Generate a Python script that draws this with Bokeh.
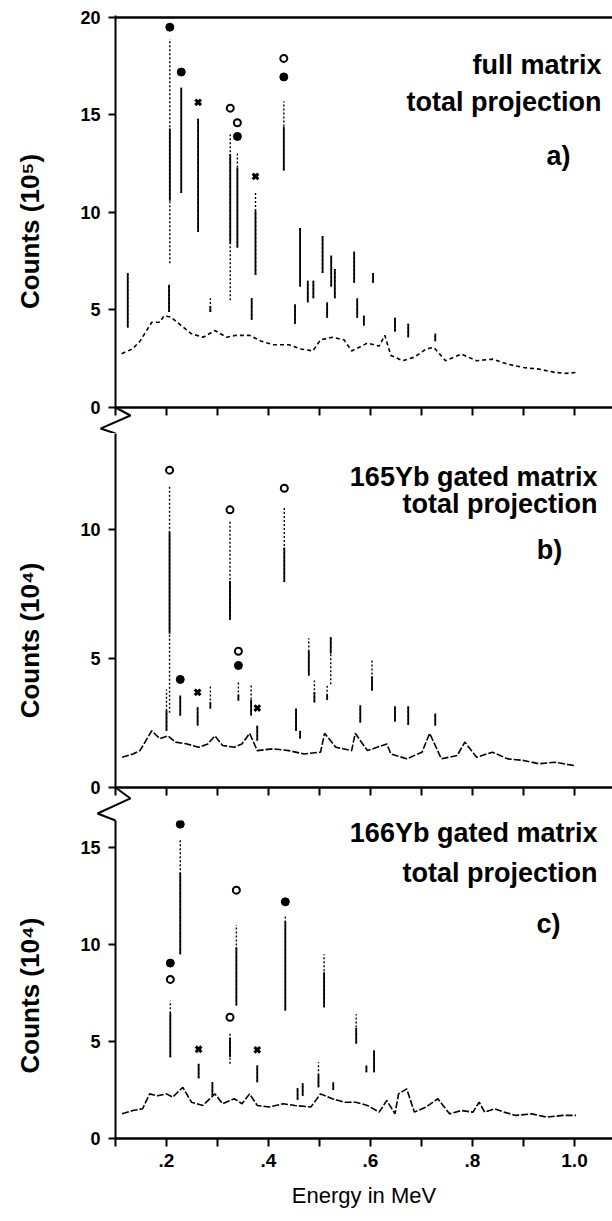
from math import pi
from bokeh.plotting import figure
from bokeh.layouts import column
from bokeh.models import Range1d, FixedTicker, Label
from bokeh.core.properties import value
from bokeh.embed import file_html
from bokeh.resources import INLINE

FONT = "Liberation Sans"

# ---------------- data ----------------
x_major = [0.2, 0.4, 0.6, 0.8, 1.0]
x_minor = [0.1, 0.3, 0.5, 0.7, 0.9]
x_all = [0.1, 0.2, 0.3, 0.4, 0.5, 0.6, 0.7, 0.8, 0.9, 1.0]
x_labels = {0.2: ".2", 0.4: ".4", 0.6: ".6", 0.8: ".8", 1.0: "1.0"}

# panel a) full matrix, counts in 1e5
bg_a_E = [0.112, 0.133, 0.148, 0.171, 0.187, 0.195, 0.209, 0.229, 0.249, 0.272,
          0.295, 0.318, 0.336, 0.363, 0.386, 0.409, 0.440, 0.463, 0.487, 0.502,
          0.525, 0.548, 0.563, 0.594, 0.617, 0.628, 0.640, 0.663, 0.686, 0.709,
          0.724, 0.747, 0.778, 0.808, 0.839, 0.869, 0.900, 0.930, 0.961, 0.984,
          1.003]
bg_a_C = [2.76, 3.00, 3.40, 4.37, 4.37, 4.70, 4.63, 4.20, 3.78, 3.60,
          3.95, 3.60, 3.70, 3.70, 3.40, 3.22, 3.22, 3.00, 2.90, 3.47,
          3.60, 3.47, 2.90, 3.30, 3.15, 3.70, 2.67, 2.40, 2.58, 3.00,
          3.08, 2.40, 2.74, 2.40, 2.48, 2.22, 2.05, 1.97, 1.80, 1.75,
          1.80]
pk_a_E = [0.124, 0.2065, 0.205, 0.229, 0.262, 0.325, 0.339, 0.3745, 0.367, 0.286,
          0.430, 0.462, 0.452, 0.477, 0.488, 0.506, 0.523, 0.530, 0.515, 0.568,
          0.574, 0.587, 0.605, 0.648, 0.674, 0.727]
pk_a_top = [6.9, 18.9, 6.3, 16.4, 14.8, 14.1, 13.1, 11.0, 5.6, 5.6,
            15.7, 9.2, 5.3, 6.5, 6.5, 8.8, 7.8, 7.1, 5.4, 8.0,
            5.6, 4.7, 6.9, 4.6, 4.3, 3.8]
pk_a_low = [4.1, 7.4, 4.9, 11.0, 9.0, 5.5, 8.2, 6.8, 4.5, 4.9,
            12.15, 6.2, 4.3, 5.4, 5.6, 6.9, 6.2, 5.6, 4.6, 6.4,
            4.6, 4.2, 6.4, 3.9, 3.6, 3.4]
pk_a_solid_hi = [6.9, 14.3, 6.3, 16.4, 14.8, 13.0, 12.3, 10.1, 5.6, 5.2,
                 14.4, 9.2, 5.3, 6.5, 6.5, 8.8, 7.8, 7.1, 5.4, 8.0,
                 5.6, 4.7, 6.9, 4.6, 4.3, 3.8]
pk_a_solid_lo = [4.1, 10.6, 4.9, 11.0, 9.0, 8.4, 8.2, 6.8, 4.5, 4.9,
                 12.15, 6.2, 4.3, 5.4, 5.6, 6.9, 6.2, 5.6, 4.6, 6.4,
                 4.6, 4.2, 6.4, 3.9, 3.6, 3.4]
filled_a_E = [0.2065, 0.229, 0.339, 0.430]
filled_a_C = [19.5, 17.2, 13.9, 16.95]
open_a_E = [0.325, 0.339, 0.430]
open_a_C = [15.35, 14.6, 17.9]
cross_a_E = [0.262, 0.3745]
cross_a_C = [15.65, 11.85]

# panel b) 165Yb gated matrix, counts in 1e4
bg_b_E = [0.113, 0.134, 0.148, 0.171, 0.187, 0.203, 0.217, 0.240, 0.263, 0.281,
          0.295, 0.310, 0.333, 0.348, 0.363, 0.378, 0.409, 0.440, 0.470, 0.502,
          0.510, 0.532, 0.563, 0.570, 0.594, 0.632, 0.640, 0.671, 0.701, 0.716,
          0.739, 0.770, 0.785, 0.808, 0.839, 0.869, 0.900, 0.930, 0.961, 0.999]
bg_b_C = [1.17, 1.30, 1.43, 2.20, 1.89, 2.00, 1.76, 1.69, 1.56, 1.69,
          2.00, 1.63, 1.56, 1.69, 2.10, 1.43, 1.50, 1.43, 1.30, 1.37,
          2.10, 1.56, 1.43, 2.10, 1.43, 1.69, 1.30, 1.11, 1.37, 2.10,
          1.11, 1.24, 1.76, 1.17, 1.37, 1.11, 1.05, 0.92, 0.98, 0.85]
pk_b_E = [0.206, 0.200, 0.3245, 0.431, 0.341, 0.227, 0.261, 0.378, 0.366, 0.286,
          0.454, 0.479, 0.490, 0.522, 0.515, 0.603, 0.580, 0.648, 0.674, 0.727,
          0.462]
pk_b_top = [11.7, 3.8, 10.3, 10.9, 4.08, 3.57, 3.11, 2.4, 3.95, 3.95,
            3.06, 5.78, 4.15, 5.83, 4.0, 5.0, 3.18, 3.15, 3.15, 2.87,
            2.2]
pk_b_low = [2.9, 2.2, 6.5, 7.96, 3.37, 2.79, 2.4, 1.82, 2.79, 3.06,
            2.2, 4.34, 3.3, 4.0, 3.4, 3.76, 2.52, 2.56, 2.43, 2.4,
            1.9]
pk_b_solid_hi = [9.9, 3.0, 8.0, 9.3, 3.6, 3.57, 3.11, 2.4, 3.4, 3.3,
                 3.06, 5.3, 3.7, 5.83, 3.6, 4.3, 3.18, 3.15, 3.15, 2.87,
                 2.2]
pk_b_solid_lo = [5.96, 2.2, 6.5, 7.96, 3.37, 2.79, 2.4, 1.82, 2.79, 3.06,
                 2.2, 4.34, 3.3, 5.19, 3.4, 3.76, 2.52, 2.56, 2.43, 2.4,
                 1.9]
filled_b_E = [0.341, 0.227]
filled_b_C = [4.73, 4.19]
open_b_E = [0.206, 0.3245, 0.431, 0.341]
open_b_C = [12.3, 10.76, 11.6, 5.28]
cross_b_E = [0.261, 0.378]
cross_b_C = [3.69, 3.08]

# panel c) 166Yb gated matrix, counts in 1e4
bg_c_E = [0.113, 0.134, 0.153, 0.167, 0.182, 0.200, 0.212, 0.232, 0.249, 0.271,
          0.295, 0.310, 0.333, 0.348, 0.363, 0.378, 0.401, 0.429, 0.452, 0.483,
          0.502, 0.525, 0.548, 0.571, 0.594, 0.617, 0.632, 0.648, 0.655, 0.671,
          0.686, 0.709, 0.732, 0.755, 0.778, 0.801, 0.813, 0.824, 0.843, 0.862,
          0.885, 0.916, 0.946, 0.977, 1.003]
bg_c_C = [1.27, 1.44, 1.53, 2.30, 2.20, 2.30, 2.13, 2.64, 1.87, 1.70,
          2.30, 1.79, 2.05, 1.79, 2.30, 1.70, 1.62, 1.79, 1.70, 1.62,
          2.30, 2.05, 1.87, 1.87, 1.70, 1.36, 1.96, 1.27, 2.30, 2.56,
          1.36, 1.62, 2.05, 1.27, 1.44, 1.36, 1.87, 1.36, 1.53, 1.36,
          1.19, 1.27, 1.10, 1.19, 1.19]
pk_c_E = [0.2075, 0.227, 0.263, 0.3245, 0.337, 0.378, 0.433, 0.509, 0.572, 0.607,
          0.592, 0.498, 0.290, 0.467, 0.457, 0.527]
pk_c_top = [7.1, 15.4, 3.85, 5.48, 11.0, 3.76, 11.5, 9.5, 6.4, 4.53,
            3.76, 3.93, 2.9, 2.85, 2.6, 2.9]
pk_c_low = [4.19, 9.5, 3.1, 3.85, 6.86, 2.9, 6.6, 6.77, 4.9, 3.42,
            3.42, 2.64, 2.2, 2.2, 2.0, 2.5]
pk_c_solid_hi = [6.5, 13.7, 3.85, 5.2, 9.86, 3.76, 11.2, 8.57, 5.7, 4.53,
                 3.76, 3.3, 2.9, 2.85, 2.6, 2.9]
pk_c_solid_lo = [4.19, 9.5, 3.1, 4.2, 6.86, 2.9, 6.6, 6.77, 4.9, 3.42,
                 3.42, 2.64, 2.2, 2.2, 2.0, 2.5]
filled_c_E = [0.2075, 0.227, 0.433]
filled_c_C = [9.04, 16.2, 12.2]
open_c_E = [0.2075, 0.3245, 0.337]
open_c_C = [8.2, 6.25, 12.8]
cross_c_E = [0.263, 0.378]
cross_c_C = [4.6, 4.57]

# ---------------- drawing ----------------
X0, X1 = 0.1, 1.0745


def make_panel(frame_h, b_top, b_bottom, y_end, y_ticks, last):
    p = figure(frame_width=497, frame_height=frame_h,
               min_border_left=115, min_border_right=0,
               min_border_top=b_top, min_border_bottom=b_bottom,
               x_range=Range1d(X0, X1), y_range=Range1d(0, y_end),
               output_backend="svg", toolbar_location=None)
    p.outline_line_color = None
    p.grid.visible = False
    p.background_fill_color = "white"
    p.border_fill_color = "white"

    xa = p.xaxis[0]
    xa.axis_line_width = 2.5
    xa.major_tick_in = 0
    xa.major_tick_out = 8
    xa.minor_tick_in = 0
    xa.minor_tick_out = 8
    xa.major_tick_line_width = 2
    xa.minor_tick_line_width = 2
    if last:
        xa.ticker = FixedTicker(ticks=x_major, minor_ticks=x_minor)
        xa.major_label_overrides = x_labels
        xa.major_label_text_font = FONT
        xa.major_label_text_font_style = "bold"
        xa.major_label_text_font_size = "19px"
        xa.major_label_text_color = "black"
        xa.major_label_standoff = 7
        xa.axis_label = "Energy in MeV"
        xa.axis_label_text_font = FONT
        xa.axis_label_text_font_style = "normal"
        xa.axis_label_text_font_size = "22px"
        xa.axis_label_text_color = "black"
        xa.axis_label_standoff = 13
    else:
        xa.ticker = FixedTicker(ticks=[], minor_ticks=x_all)

    ya = p.yaxis[0]
    ya.ticker = FixedTicker(ticks=y_ticks, minor_ticks=[])
    ya.axis_line_width = 2
    ya.major_tick_in = 0
    ya.major_tick_out = 7
    ya.major_tick_line_width = 2
    ya.minor_tick_line_color = None
    ya.major_label_text_font = FONT
    ya.major_label_text_font_style = "bold"
    ya.major_label_text_font_size = "18px"
    ya.major_label_text_color = "black"
    ya.major_label_standoff = 8
    return p


def draw_spectrum(p, bgE, bgC, pkE, low, top, slo, shi, fE, fC, oE, oC, cE, cC, dash):
    p.line(bgE, bgC, line_color="black", line_width=1.6, line_dash=dash)
    p.segment(x0=pkE, y0=low, x1=pkE, y1=top, line_color="black",
              line_width=1.4, line_dash="2 2")
    p.segment(x0=pkE, y0=slo, x1=pkE, y1=shi, line_color="black", line_width=1.8)
    p.scatter(fE, fC, marker="circle", size=8, fill_color="black", line_color="black")
    p.scatter(oE, oC, marker="circle", size=7, fill_color="white",
              line_color="black", line_width=2)
    p.scatter(cE, cC, marker="x", size=8, line_color="black", line_width=3)


def add_text(p, lines):
    for (txt, x, y) in lines:
        p.add_layout(Label(x=x, y=y, text=txt, text_align="right",
                           text_baseline="alphabetic", text_font=FONT,
                           text_font_style="bold", text_font_size="27px",
                           text_color="black"))


def add_ytitle(p, txt, y):
    p.text(x=[-0.0667], y=[y], text=[txt], angle=pi / 2,
           text_align="center", text_baseline="middle",
           text_font=value(FONT), text_font_style="bold",
           text_font_size="26px", text_color="black", level="overlay")


zz_ab_x = [0.1, 0.1294, 0.0706, 0.1]
zz_bc_x = [0.1, 0.1294, 0.0647, 0.1]

# panel a
pa = make_panel(392, 15, 26, 20.1, [0, 5, 10, 15, 20], False)
pa.segment(x0=[X0], y0=[20], x1=[X1], y1=[20], line_color="black", line_width=2.5)
draw_spectrum(pa, bg_a_E, bg_a_C, pk_a_E, pk_a_low, pk_a_top, pk_a_solid_lo,
              pk_a_solid_hi, filled_a_E, filled_a_C, open_a_E, open_a_C,
              cross_a_E, cross_a_C, "4 3")
add_text(pa, [("full matrix", 1.053, 17.54),
              ("total projection", 1.053, 15.66),
              ("a)", 0.992, 12.92)])
add_ytitle(pa, "Counts (10\u2075)", 9.03)
pa.line(zz_ab_x, [0, -0.41, -1.08, -1.33],
        line_color="black", line_width=2, level="overlay")

# panel b
pb = make_panel(354, 0, 12, 13.72, [0, 5, 10], False)
draw_spectrum(pb, bg_b_E, bg_b_C, pk_b_E, pk_b_low, pk_b_top, pk_b_solid_lo,
              pk_b_solid_hi, filled_b_E, filled_b_C, open_b_E, open_b_C,
              cross_b_E, cross_b_C, "7 2")
add_text(pb, [("165Yb gated matrix", 1.045, 12.02),
              ("total projection", 1.045, 11.0),
              ("b)", 0.976, 9.19)])
add_ytitle(pb, "Counts (10\u2074)", 5.70)
pb.line(zz_bc_x, [0, -0.426, -1.008, -1.279],
        line_color="black", line_width=2, level="overlay")

# panel c
pc = make_panel(318, 21, 83, 16.39, [0, 5, 10, 15], True)
draw_spectrum(pc, bg_c_E, bg_c_C, pk_c_E, pk_c_low, pk_c_top, pk_c_solid_lo,
              pk_c_solid_hi, filled_c_E, filled_c_C, open_c_E, open_c_C,
              cross_c_E, cross_c_C, "7 2")
add_text(pc, [("166Yb gated matrix", 1.045, 15.77),
              ("total projection", 1.045, 13.68),
              ("c)", 0.9725, 11.08)])
add_ytitle(pc, "Counts (10\u2074)", 7.37)
pc.line(zz_bc_x, [18.09, 17.53, 16.75, 16.39],
        line_color="black", line_width=2, level="overlay")

layout = column(pa, pb, pc, spacing=0)
open("out.html", "w").write(file_html(layout, INLINE, title="spectra"))
